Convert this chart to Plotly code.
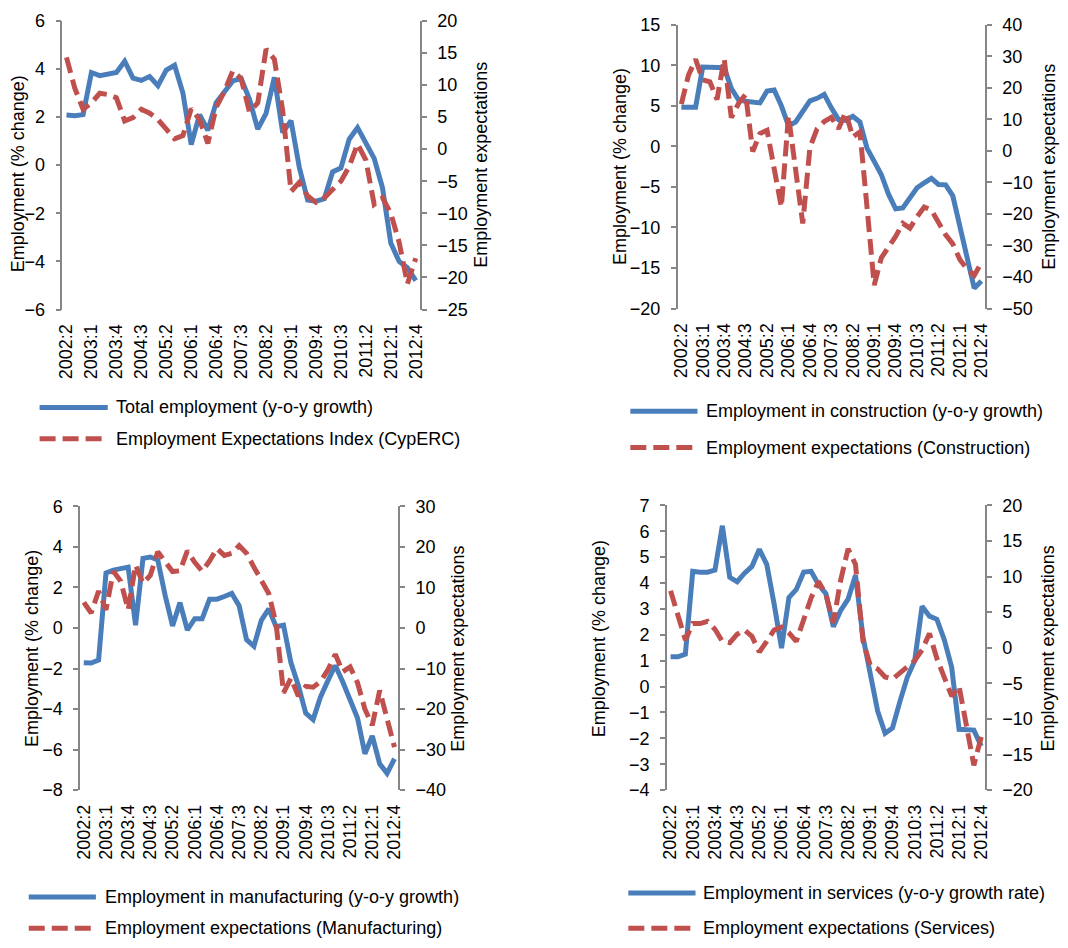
import plotly.graph_objects as go

# ---------------------------------------------------------------------------
# Data: quarterly observations, 2002:2 .. 2012:4
# ---------------------------------------------------------------------------
quarters = [f"{yr}:{q}" for yr in range(2002, 2013) for q in range(1, 5)][1:]
tick_labels = quarters[::3]

# Total employment (y-o-y %) and CypERC employment expectations index
total_emp = [2.08, 2.05, 2.10, 3.85, 3.72, 3.76, 3.85, 4.32, 3.62, 3.52, 3.68,
             3.30, 3.95, 4.15, 3.00, 0.85, 2.10, 1.45, 2.60, 3.05, 3.50, 3.60,
             2.75, 1.50, 2.15, 3.65, 1.35, 1.85, -0.10, -1.45, -1.50, -1.40,
             -0.28, -0.12, 1.08, 1.56, 0.90, 0.28, -0.94, -3.24, -4.00, -4.26,
             -4.80]
total_exp = [14.3, 9.5, 6.2, 7.2, 8.7, 8.5, 8.0, 4.4, 4.9, 6.2, 5.6, 4.6, 3.1,
             1.6, 2.1, 6.3, 4.6, 0.9, 6.5, 9.0, 12.2, 11.0, 5.8, 7.2, 15.6,
             14.0, 6.0, -6.6, -5.2, -7.3, -8.3, -7.6, -6.3, -5.0, -2.7, 0.8,
             -1.7, -8.6, -7.6, -10.0, -14.5, -21.0, -17.0]

# Construction
constr_emp = [4.83, 4.83, 4.83, 9.77, 9.77, 9.77, 9.70, 7.15, 5.75, 5.55, 5.50,
              5.35, 6.83, 6.95, 5.00, 2.55, 3.00, 4.20, 5.60, 5.92, 6.40, 4.75,
              3.30, 3.20, 3.70, 3.00, -0.25, -1.85, -3.50, -5.90, -7.70, -7.60,
              -6.40, -5.10, -4.50, -3.95, -4.70, -4.75, -6.10, -10.00, -13.90,
              -17.50, -16.60]
constr_exp = [14.8, 24.0, 29.0, 22.5, 21.9, 16.3, 29.2, 10.5, 15.0, 17.9, -0.2,
              5.5, 6.5, -6.5, -17.8, 11.1, -7.0, -23.0, 1.0, 7.0, 9.3, 10.6,
              7.0, 12.2, 4.4, 6.0, -18.0, -42.6, -33.9, -30.8, -27.1, -23.0,
              -24.5, -20.9, -17.8, -18.8, -22.5, -26.6, -29.5, -34.5, -37.5,
              -39.5, -35.5]

# Manufacturing
manuf_emp = [-1.71, -1.73, -1.58, 2.71, 2.85, 2.90, 3.00, 0.14, 3.43, 3.50,
             3.35, 1.60, 0.10, 1.25, -0.10, 0.46, 0.46, 1.42, 1.42, 1.55, 1.70,
             1.10, -0.58, -0.90, 0.38, 0.94, 0.06, 0.14, -1.71, -2.83, -4.20,
             -4.52, -3.40, -2.60, -1.85, -2.65, -3.50, -4.44, -6.20, -5.32,
             -6.70, -7.17, -6.45]
manuf_exp = [6.3, 3.7, 9.1, 4.5, 14.0, 11.5, 4.5, 15.5, 11.0, 13.0, 18.8, 16.5,
             13.9, 14.1, 19.0, 16.2, 14.0, 16.5, 19.6, 17.9, 18.4, 20.3, 18.4,
             15.0, 12.0, 8.5, 1.0, -16.0, -12.4, -16.8, -14.4, -14.6, -13.2,
             -10.3, -6.5, -10.8, -9.6, -13.5, -20.0, -24.0, -15.4, -22.0, -29.4]

# Services
serv_emp = [1.15, 1.15, 1.25, 4.45, 4.42, 4.42, 4.50, 6.21, 4.22, 4.05, 4.38,
            4.64, 5.30, 4.72, 3.19, 1.49, 3.44, 3.75, 4.42, 4.45, 3.94, 3.59,
            2.31, 2.94, 3.38, 4.30, 1.93, 0.42, -0.95, -1.80, -1.60, -0.58,
            0.36, 1.00, 3.10, 2.72, 2.60, 1.81, 0.75, -1.65, -1.65, -1.68,
            -2.30]
serv_exp = [8.0, 4.3, 1.1, 3.4, 3.4, 3.7, 2.6, 0.9, 0.7, 1.9, 2.5, 1.6, -0.6,
            0.9, 2.5, 2.9, 2.1, 0.9, 3.9, 7.0, 9.3, 7.5, 3.5, 9.5, 13.9, 11.7,
            1.0, -2.5, -3.0, -4.1, -4.4, -3.6, -2.6, -1.8, -0.3, 2.0, -1.5,
            -4.0, -6.8, -5.4, -11.0, -16.5, -12.5]

# ---------------------------------------------------------------------------
# Styling / layout
# ---------------------------------------------------------------------------
W, H = 1068, 948
BLUE = "#4A7EBB"
RED = "#C0504D"
AXIS = "#868686"
FONT = "Liberation Sans, Arial, sans-serif"
FS = 18
LW = 5
DASH = "16px,7px"

panels = [
    dict(blue=total_emp, red=total_exp,
         blue_name="Total employment (y-o-y growth)",
         red_name="Employment Expectations Index (CypERC)",
         left=(-6, 6, 2), right=(-25, 20, 5),
         box=(56, 11, 418, 306),
         title_l=(12, 167), title_r=(480, 158),
         legend=(33, 102, 108, 406, 438)),
    dict(blue=constr_emp, red=constr_exp,
         blue_name="Employment in construction (y-o-y growth)",
         red_name="Employment expectations (Construction)",
         left=(-20, 15, 5), right=(-50, 40, 10),
         box=(679, 15, 990, 305),
         title_l=(620, 160), title_r=(1054, 160),
         legend=(631, 699, 706, 410, 447)),
    dict(blue=manuf_emp, red=manuf_exp,
         blue_name="Employment in manufacturing (y-o-y growth)",
         red_name="Employment expectations (Manufacturing)",
         left=(-8, 6, 2), right=(-40, 30, 10),
         box=(74, 507, 396, 797),
         title_l=(26, 652), title_r=(457, 652),
         legend=(22, 90, 97, 906, 938)),
    dict(blue=serv_emp, red=serv_exp,
         blue_name="Employment in services (y-o-y growth rate)",
         red_name="Employment expectations (Services)",
         left=(-4, 7, 1), right=(-20, 20, 5),
         box=(668, 506, 990, 797),
         title_l=(600, 642), title_r=(1054, 652),
         legend=(629, 697, 703, 902, 938)),
]


def ref(kind, i):
    return kind if i == 1 else f"{kind}{i}"


def key(kind, i):
    return f"{kind}axis" if i == 1 else f"{kind}axis{i}"


fig = go.Figure()
layout = {}
annotations = []
shapes = []

axis_style = dict(showline=True, linecolor=AXIS, linewidth=1.5,
                  ticks="outside", ticklen=5, tickwidth=1.5, tickcolor=AXIS,
                  showgrid=False, zeroline=False,
                  tickfont=dict(family=FONT, size=FS, color="black"))

for p, cfg in enumerate(panels):
    xi, xz = 2 * p + 1, 2 * p + 2
    yl, yr = 2 * p + 1, 2 * p + 2

    fig.add_trace(go.Scatter(
        x=quarters, y=cfg["blue"], mode="lines", name=cfg["blue_name"],
        line=dict(color=BLUE, width=LW), showlegend=False,
        xaxis=ref("x", xi), yaxis=ref("y", yl)))
    fig.add_trace(go.Scatter(
        x=quarters, y=cfg["red"], mode="lines", name=cfg["red_name"],
        line=dict(color=RED, width=LW, dash=DASH), showlegend=False,
        xaxis=ref("x", xi), yaxis=ref("y", yr)))

    x0, y0, x1, y1 = cfg["box"]
    xdom = [x0 / W, x1 / W]
    ydom = [1 - y1 / H, 1 - y0 / H]
    lo, hi, dt = cfg["left"]
    rlo, rhi, rdt = cfg["right"]

    # category axis: labels along the bottom of the plot area
    layout[key("x", xi)] = dict(
        domain=xdom, anchor=ref("y", yl), type="category",
        categoryorder="array", categoryarray=quarters, range=[-0.5, 42.5],
        tickmode="array", tickvals=tick_labels, tickangle=-90,
        showline=False, ticks="", showgrid=False, zeroline=False,
        ticklabelstandoff=10,
        tickfont=dict(family=FONT, size=FS, color="black"))

    # horizontal axis line crossing at zero with a tick between categories
    zero_pos = ydom[0] + (0 - lo) / (hi - lo) * (ydom[1] - ydom[0])
    layout[key("x", xz)] = dict(
        overlaying=ref("x", xi), anchor="free", position=zero_pos,
        type="linear", range=[-0.5, 42.5], side="bottom",
        tickmode="array", tickvals=[k + 0.5 for k in range(42)],
        showticklabels=False, **{k: v for k, v in axis_style.items()
                                 if k != "tickfont"})

    layout[key("y", yl)] = dict(
        domain=ydom, anchor=ref("x", xi), range=[lo, hi], dtick=dt, tick0=0,
        ticklabelstandoff=7, **axis_style)
    layout[key("y", yr)] = dict(
        overlaying=ref("y", yl), anchor=ref("x", xi), side="right",
        range=[rlo, rhi], dtick=rdt, tick0=0, ticklabelstandoff=7,
        **axis_style)

    # axis titles
    for (tx, ty), txt in ((cfg["title_l"], "Employment (% change)"),
                          (cfg["title_r"], "Employment expectations")):
        annotations.append(dict(
            text=txt, x=tx / W, y=1 - ty / H, xref="paper", yref="paper",
            textangle=-90, showarrow=False, xanchor="center", yanchor="middle",
            font=dict(family=FONT, size=FS, color="black")))

    # legend entries
    lx0, lx1, tx, ly1, ly2 = cfg["legend"]
    for ly, color, dash, txt in ((ly1, BLUE, "solid", cfg["blue_name"]),
                                 (ly2, RED, DASH, cfg["red_name"])):
        shapes.append(dict(
            type="line", xref="paper", yref="paper",
            x0=lx0 / W, x1=lx1 / W, y0=1 - ly / H, y1=1 - ly / H,
            line=dict(color=color, width=LW, dash=dash)))
        annotations.append(dict(
            text=txt, x=tx / W, y=1 - ly / H, xref="paper", yref="paper",
            showarrow=False, xanchor="left", yanchor="middle",
            font=dict(family=FONT, size=FS, color="black")))

fig.update_layout(
    width=W, height=H, autosize=False,
    margin=dict(l=0, r=0, t=0, b=0),
    paper_bgcolor="white", plot_bgcolor="rgba(0,0,0,0)",
    font=dict(family=FONT, size=FS, color="black"),
    showlegend=False,
    annotations=annotations, shapes=shapes,
    **layout)

fig.write_html("out.html")
